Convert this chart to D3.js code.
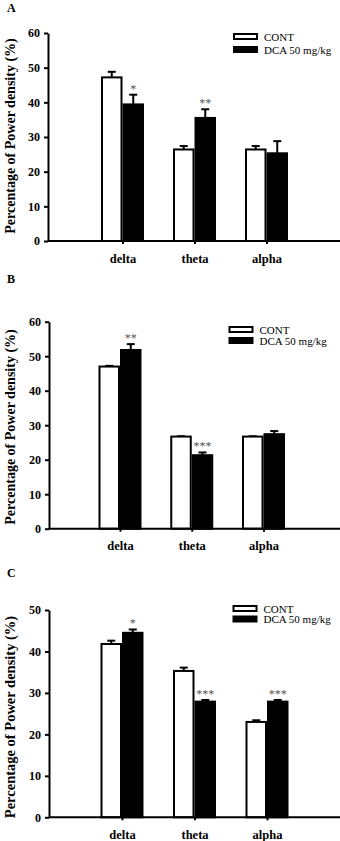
<!DOCTYPE html>
<html>
<head>
<meta charset="utf-8">
<script src="https://cdn.jsdelivr.net/npm/d3@7"></script>
<style>
  body { margin: 0; background: #fff; }
  svg { display: block; }
  text { font-family: "Liberation Serif", "Times New Roman", serif; }
  .axis text { font-family: "Liberation Serif", "Times New Roman", serif; font-weight: bold; fill: #000; }
  .axis path, .axis line { stroke: #000; stroke-width: 2; }
  .legend text { font-size: 11px; }
  .sig { font-size: 12px; fill: #555; }
</style>
</head>
<body>
<svg width="340" height="841"></svg>
<script>
// band names and groups
const categories = ['delta', 'theta', 'alpha'];
const groups = ['CONT', 'DCA 50 mg/kg'];

// panel A
const contA = [47.2, 26.4, 26.4];
const contErrA = [1.6, 1.0, 1.0];
const dcaA = [39.4, 35.5, 25.3];
const dcaErrA = [2.8, 2.5, 3.5];
const sigA = ['*', '**', ''];
const ticksA = [0, 10, 20, 30, 40, 50, 60];

// panel B
const contB = [47.0, 26.7, 26.7];
const contErrB = [0.2, 0.1, 0.1];
const dcaB = [51.8, 21.3, 27.4];
const dcaErrB = [1.7, 0.8, 0.9];
const sigB = ['**', '***', ''];
const ticksB = [0, 10, 20, 30, 40, 50, 60];

// panel C
const contC = [41.8, 35.3, 23.0];
const contErrC = [0.8, 0.8, 0.4];
const dcaC = [44.5, 27.9, 27.9];
const dcaErrC = [0.8, 0.4, 0.4];
const sigC = ['*', '***', '***'];
const ticksC = [0, 10, 20, 30, 40, 50];

const svg = d3.select('svg');

const panels = [
  {
    letter: 'A', letterY: 12,
    cont: contA, contErr: contErrA, dca: dcaA, dcaErr: dcaErrA, sig: sigA, ticks: ticksA,
    axisX: 48, yTop: 33, yBottom: 241,
    xRange: [122.5, 266.5], labelY: 263,
    titleSize: 14, titleMid: 136,
    legendX: 233, legendY: 33, legendGap: 13
  },
  {
    letter: 'B', letterY: 283,
    cont: contB, contErr: contErrB, dca: dcaB, dcaErr: dcaErrB, sig: sigB, ticks: ticksB,
    axisX: 49, yTop: 321.7, yBottom: 528.7,
    xRange: [120, 263.5], labelY: 550,
    titleSize: 14, titleMid: 427,
    legendX: 228.5, legendY: 326, legendGap: 11
  },
  {
    letter: 'C', letterY: 577,
    cont: contC, contErr: contErrC, dca: dcaC, dcaErr: dcaErrC, sig: sigC, ticks: ticksC,
    axisX: 49, yTop: 610, yBottom: 817.3,
    xRange: [122, 267], labelY: 839,
    titleSize: 14.5, titleMid: 717,
    legendX: 232.5, legendY: 605, legendGap: 10.5
  }
];

panels.forEach(drawPanel);

function drawPanel(p) {
  const g = svg.append('g');

  const yMax = d3.max(p.ticks);
  const y = d3.scaleLinear().domain([0, yMax]).range([p.yBottom, p.yTop]);
  const x = d3.scalePoint().domain(categories).range(p.xRange);
  const inner = d3.scaleBand().domain(groups).range([-21.5, 21.5]);

  const rows = categories.map((c, i) => [
    { cat: c, group: groups[0], value: p.cont[i], err: p.contErr[i], sig: '' },
    { cat: c, group: groups[1], value: p.dca[i], err: p.dcaErr[i], sig: p.sig[i] }
  ]).flat();

  // panel letter
  g.append('text')
    .attr('x', 7)
    .attr('y', p.letterY)
    .attr('font-weight', 'bold')
    .attr('font-size', 12)
    .text(p.letter);

  // error bars (upward only)
  const err = g.selectAll('.err').data(rows).enter().append('g').attr('class', 'err');
  err.append('line')
    .attr('x1', d => x(d.cat) + inner(d.group) + inner.bandwidth() / 2)
    .attr('x2', d => x(d.cat) + inner(d.group) + inner.bandwidth() / 2)
    .attr('y1', d => y(d.value))
    .attr('y2', d => y(d.value + d.err))
    .attr('stroke', '#000')
    .attr('stroke-width', 2);
  err.append('line')
    .attr('x1', d => x(d.cat) + inner(d.group) + inner.bandwidth() / 2 - 4)
    .attr('x2', d => x(d.cat) + inner(d.group) + inner.bandwidth() / 2 + 4)
    .attr('y1', d => y(d.value + d.err))
    .attr('y2', d => y(d.value + d.err))
    .attr('stroke', '#000')
    .attr('stroke-width', 2);

  // bars
  g.selectAll('.bar').data(rows).enter().append('rect')
    .attr('class', 'bar')
    .attr('x', d => x(d.cat) + inner(d.group) + 1)
    .attr('y', d => y(d.value))
    .attr('width', inner.bandwidth() - 2)
    .attr('height', d => y(0) - y(d.value))
    .attr('fill', d => d.group === groups[0] ? '#fff' : '#000')
    .attr('stroke', '#000')
    .attr('stroke-width', 2);

  // significance marks
  g.selectAll('.sig').data(rows.filter(d => d.sig)).enter().append('text')
    .attr('class', 'sig')
    .attr('x', d => x(d.cat) + inner(d.group) + inner.bandwidth() / 2)
    .attr('y', d => y(d.value + d.err) - 2)
    .attr('text-anchor', 'middle')
    .text(d => d.sig);

  // y axis
  const yAxis = g.append('g')
    .attr('class', 'axis')
    .attr('transform', `translate(${p.axisX},0)`)
    .call(d3.axisLeft(y).tickValues(p.ticks).tickSize(4).tickSizeOuter(0).tickPadding(4));
  yAxis.attr('font-family', null).attr('font-size', 12);

  // x axis
  const xAxis = g.append('g')
    .attr('class', 'axis')
    .attr('transform', `translate(0,${y(0)})`)
    .call(d3.axisBottom(x).tickSize(3).tickSizeOuter(0));
  xAxis.attr('font-family', null).attr('font-size', 12.5);
  xAxis.select('.domain').remove();
  xAxis.append('line')
    .attr('x1', p.axisX)
    .attr('x2', 340)
    .attr('stroke', '#000')
    .attr('stroke-width', 2);
  xAxis.selectAll('.tick text')
    .attr('y', p.labelY - y(0))
    .attr('dy', 0);

  // y label
  g.append('text')
    .attr('transform', `translate(15,${p.titleMid}) rotate(-90)`)
    .attr('text-anchor', 'middle')
    .attr('font-weight', 'bold')
    .attr('font-size', p.titleSize)
    .text('Percentage of Power density (%)');

  // legend
  const legend = g.append('g').attr('class', 'legend')
    .attr('transform', `translate(${p.legendX},${p.legendY})`);
  const items = legend.selectAll('g').data(groups).enter().append('g')
    .attr('transform', (d, i) => `translate(0,${i * p.legendGap})`);
  items.append('rect')
    .attr('x', 1)
    .attr('y', 1)
    .attr('width', 23)
    .attr('height', 5)
    .attr('fill', (d, i) => i === 0 ? '#fff' : '#000')
    .attr('stroke', '#000')
    .attr('stroke-width', 2);
  items.append('text')
    .attr('x', 31)
    .attr('y', 7.5)
    .text(d => d);
}
</script>
</body>
</html>
